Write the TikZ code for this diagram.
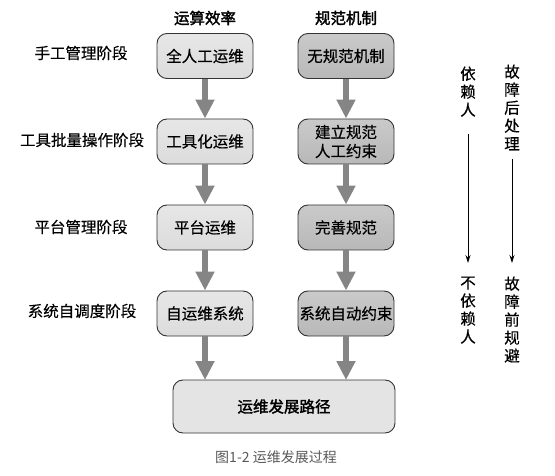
\documentclass[tikz,border=0pt]{standalone}
\usepackage{fontspec}
\setmainfont{Noto Sans CJK SC}[FakeBold=0.4]
\newfontfamily\cjkb{Noto Sans CJK SC}[FakeBold=2]
\newfontfamily\cjkl{Noto Sans CJK SC}
\usetikzlibrary{arrows.meta}
\definecolor{lbox}{HTML}{DCDCDC}
\definecolor{rbox}{HTML}{B8B8B8}
\definecolor{bbox}{HTML}{E4E4E4}
\definecolor{arr}{HTML}{858585}
\tikzset{
  stagebox/.style={draw=black!80, line width=0.9pt, rounded corners=10pt, minimum width=96pt, minimum height=45pt, font=\fontsize{15.5}{18}\selectfont, align=center, inner sep=1pt},
  lft/.style={stagebox, top color=lbox!70!white, bottom color=lbox},
  rgt/.style={stagebox, top color=rbox!75!white, bottom color=rbox},
  grayarrow/.style={draw=arr, line width=6pt, -{Triangle[width=18pt,length=19pt]}, shorten >=0pt},
  thinarrow/.style={draw=black, line width=0.8pt, -{Stealth[width=5pt,length=8pt]}},
  lbl/.style={font=\fontsize{15.5}{18}\selectfont},
  vtext/.style={font=\fontsize{15.5}{18}\selectfont, align=center},
}
\begin{document}
\begin{tikzpicture}[x=1pt,y=-1pt]
\useasboundingbox (0,0) rectangle (555,476);
% headers
\node[font=\cjkb\fontsize{15.5}{18}\selectfont] (h1) at (205,18) {运算效率};
\node[font=\cjkb\fontsize{15.5}{18}\selectfont] (h2) at (346,18) {规范机制};
% stage labels
\node[lbl] (s1) at (81,53) {手工管理阶段};
\node[lbl] (s2) at (82,140) {工具批量操作阶段};
\node[lbl] (s3) at (81,227) {平台管理阶段};
\node[lbl] (s4) at (82,311) {系统自调度阶段};
% left column
\node[lft] (a1) at (205,56) {全人工运维};
\node[lft] (a2) at (205,141.5) {工具化运维};
\node[lft] (a3) at (205,227.5) {平台运维};
\node[lft] (a4) at (205,313.5) {自运维系统};
% right column
\node[rgt] (b1) at (346,56) {无规范机制};
\node[rgt, font=\fontsize{15.5}{19}\selectfont] (b2) at (346,141.5) {建立规范\\人工约束};
\node[rgt] (b3) at (346,227.5) {完善规范};
\node[rgt] (b4) at (346,313.5) {系统自动约束};
% bottom
\node[stagebox, minimum width=222pt, minimum height=53pt, fill=bbox, font=\cjkb\fontsize{15.5}{18}\selectfont] (c) at (284,406.5) {运维发展路径};
\coordinate (cl) at (205,380);
\coordinate (cr) at (346,380);
% arrows
\draw[grayarrow] (a1.south) -- (a2.north);
\draw[grayarrow] (a2.south) -- (a3.north);
\draw[grayarrow] (a3.south) -- (a4.north);
\draw[grayarrow] (a4.south) -- (cl);
\draw[grayarrow] (b1.south) -- (b2.north);
\draw[grayarrow] (b2.south) -- (b3.north);
\draw[grayarrow] (b3.south) -- (b4.north);
\draw[grayarrow] (b4.south) -- (cr);
% right vertical texts
\node[vtext, anchor=north] (d1) at (468,63) {依\\赖\\人};
\node[vtext, anchor=north] (d2) at (468,273) {不\\依\\赖\\人};
\node[vtext, anchor=north] (e1) at (512,61) {故\\障\\后\\处\\理};
\node[vtext, anchor=north] (e2) at (512,273) {故\\障\\前\\规\\避};
\draw[thinarrow] ([yshift=-14pt]d1.south) -- ([yshift=10pt]d2.north);
\draw[thinarrow] ([yshift=-5pt]e1.south) -- ([yshift=10pt]e2.north);
% caption
\node[font=\cjkl\fontsize{14}{16}\selectfont, text=black!65] (cap) at (276,457) {图1-2 运维发展过程};
\end{tikzpicture}
\end{document}
